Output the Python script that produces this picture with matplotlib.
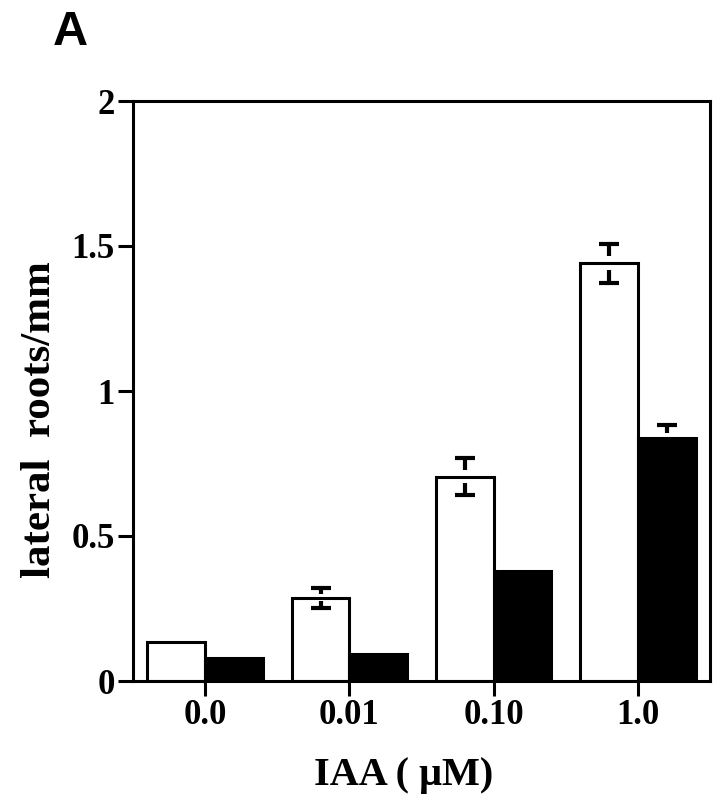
import numpy as np
from matplotlib import pyplot as plt

# IAA concentrations and lateral root density (white = first line, black = second line)
conc = ["0.0", "0.01", "0.10", "1.0"]
white_vals = [0.135, 0.287, 0.705, 1.44]
white_err = [0.0, 0.035, 0.065, 0.068]
black_vals = [0.08, 0.093, 0.38, 0.839]
black_err = [0.0, 0.0, 0.0, 0.045]
yticks = [0, 0.5, 1, 1.5, 2]
ytick_labels = ["0", "0.5", "1", "1.5", "2"]

serif = "Liberation Serif"
lw = 2.2

fig = plt.figure(figsize=(7.16, 8), dpi=100)
ax = fig.add_axes([0.1858, 0.14875, 0.8058, 0.725])

x = np.arange(len(conc))
w = 0.4
ax.bar(x - w/2, white_vals, w, color="white", edgecolor="black", linewidth=lw, zorder=2)
ax.bar(x + w/2, black_vals, w, color="black", edgecolor="black", linewidth=lw, zorder=2)


def draw_err(xpos, vals, errs):
	for xi, v, e in zip(xpos, vals, errs):
		if e <= 0:
			continue
		# caps
		ax.plot([xi, xi], [v + e, v - e], linestyle="none", marker="_",
			markersize=15, markeredgewidth=3, color="black", zorder=3)
		# short stems from the caps, leaving a gap at the bar top
		ax.vlines(xi, v + 0.35*e, v + e, color="black", linewidth=3, zorder=3)
		ax.vlines(xi, v - e, v - 0.35*e, color="black", linewidth=3, zorder=3)


draw_err(x - w/2, white_vals, white_err)
draw_err(x + w/2, black_vals, black_err)

ax.set_xlim(-0.5, 3.5)
ax.set_ylim(0, 2)
ax.set_xticks(x)
ax.set_xticklabels(conc, fontfamily=serif, fontweight="bold", fontsize=25)
ax.set_yticks(yticks)
ax.set_yticklabels(ytick_labels, fontfamily=serif, fontweight="bold", fontsize=25)
ax.tick_params(axis="both", direction="out", length=11, width=lw, pad=2)
for s in ax.spines.values():
	s.set_linewidth(lw)

fig.text(40/716, 1 - 420/800, "lateral  roots/mm", rotation=90, ha="center", va="center",
	fontfamily=serif, fontweight="bold", fontsize=31)
fig.text(404/716, 1 - 776/800, "IAA ( \u03bcM)", ha="center", va="center",
	fontfamily=serif, fontweight="bold", fontsize=29)
fig.text(53/716, 1 - 45/800, "A", ha="left", va="baseline",
	fontfamily="Liberation Sans", fontweight="bold", fontsize=35)

plt.savefig("out.png", dpi=100)
